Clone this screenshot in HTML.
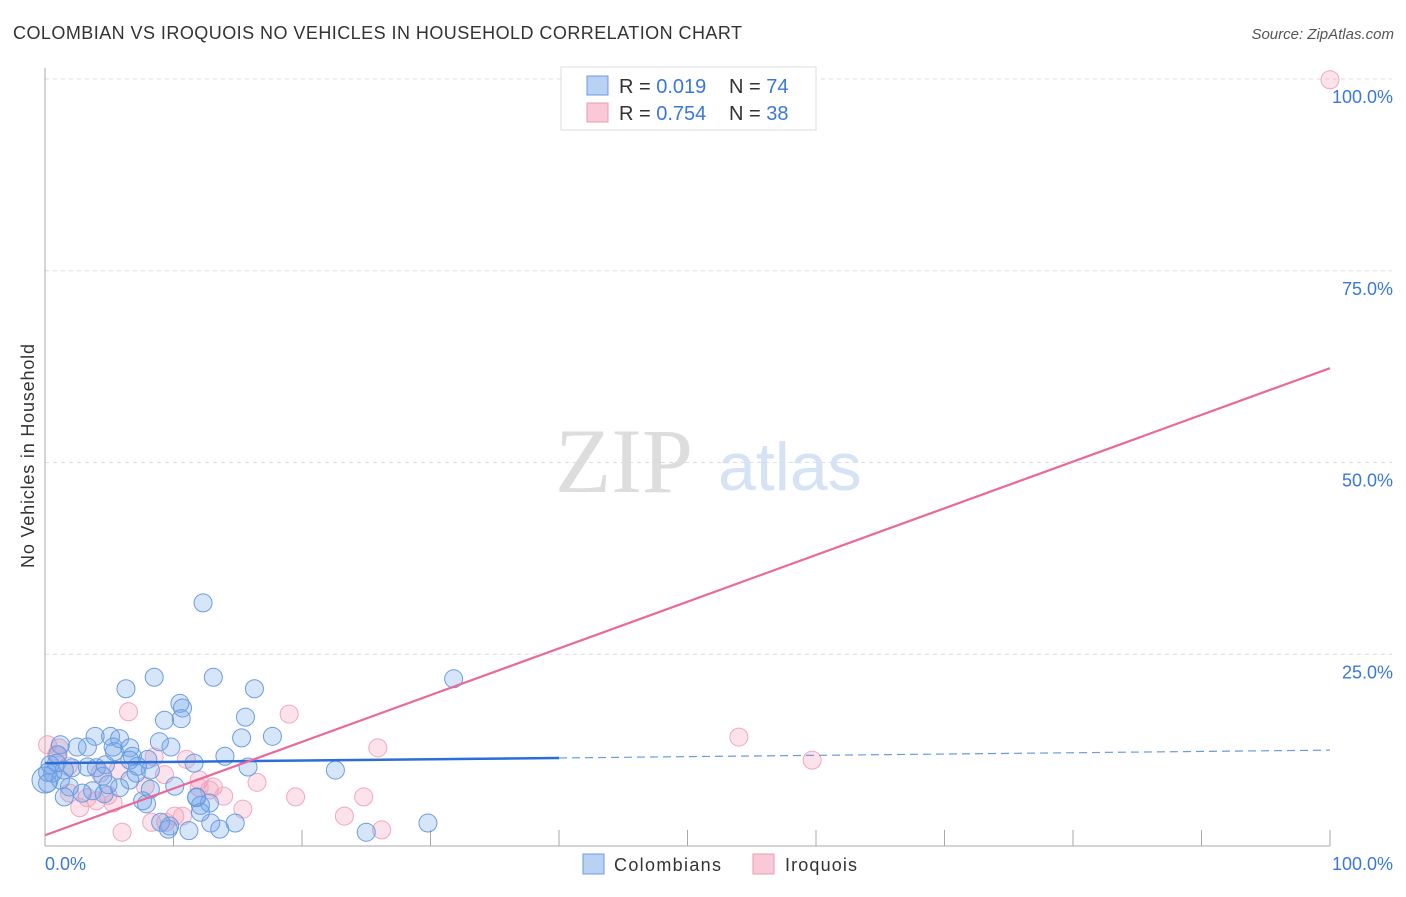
<!DOCTYPE html>
<html><head><meta charset="utf-8"><style>
body{margin:0;background:#fff;font-family:"Liberation Sans",sans-serif;}
svg text{font-family:"Liberation Sans",sans-serif;}
</style></head><body>
<svg id="chart" width="1406" height="892">
<text x="13" y="39" font-size="18" fill="#333" textLength="729">COLOMBIAN VS IROQUOIS NO VEHICLES IN HOUSEHOLD CORRELATION CHART</text>
<text x="1394" y="39" font-size="15" fill="#555" font-style="italic" text-anchor="end">Source: ZipAtlas.com</text>
<text x="555" y="492" font-size="92" fill="#ddd" style="font-family:'Liberation Serif',serif">ZIP</text>
<text x="718" y="490" font-size="68" fill="#d6e3f5">atlas</text>
<text transform="translate(34,456) rotate(-90)" font-size="18" fill="#333" text-anchor="middle" textLength="224">No Vehicles in Household</text>
<g id="grid"></g><g id="pts"></g><g id="lines"></g>
<g>
<rect x="561" y="67" width="255" height="63" fill="#fff" stroke="#ddd"/>
<rect x="587" y="76" width="21" height="19" fill="#b9d2f3" stroke="#6a9be0"/>
<rect x="587" y="103" width="21" height="19" fill="#f9c9d8" stroke="#ec9ab5"/>
<text x="619" y="93" font-size="20" fill="#333">R = <tspan fill="#3a78d8">0.019</tspan></text>
<text x="729" y="93" font-size="20" fill="#333">N = <tspan fill="#3a78d8">74</tspan></text>
<text x="619" y="120" font-size="20" fill="#333">R = <tspan fill="#3a78d8">0.754</tspan></text>
<text x="729" y="120" font-size="20" fill="#333">N = <tspan fill="#3a78d8">38</tspan></text>
</g>
<g>
<rect x="583" y="854" width="21" height="20" fill="#b9d2f3" stroke="#6a9be0"/>
<text x="614" y="871" font-size="18" fill="#333" textLength="107">Colombians</text>
<rect x="753" y="854" width="21" height="20" fill="#f9c9d8" stroke="#ec9ab5"/>
<text x="785" y="871" font-size="18" fill="#333" textLength="72">Iroquois</text>
</g>
</svg>
<script>
const yTicks=[25,50,75,100];
const yTickLabels=["25.0%","50.0%","75.0%","100.0%"];
const xTickLabels=["0.0%","100.0%"];
const blueX=[12.3,8.5,13.1,6.3,16.3,31.8,10.5,10.7,9.3,10.6,15.6,3.9,5.1,5.8,1.2,2.5,3.3,5.3,6.6,9.8,15.3,17.7,8.9,14.0,8.0,5.4,6.8,0.9,2.1,3.3,4.0,7.2,8.2,7.1,11.6,15.8,22.6,0.2,0.6,4.5,6.6,5.8,8.2,10.1,3.7,4.6,2.9,1.9,7.6,11.8,12.1,12.8,7.9,9.0,9.6,11.2,12.9,13.6,14.8,25.0,29.8,0.2,1.2,1.5,4.9,0.4,1.0,9.7,12.1,11.8,4.7,6.6,1.5,0];
const blueY=[31.7,22.0,22.0,20.5,20.5,21.8,18.6,18.0,16.4,16.6,16.8,14.3,14.3,14.0,13.2,12.9,12.9,12.9,12.8,12.9,14.1,14.3,13.6,11.7,11.3,12.3,11.7,10.8,10.2,10.3,10.2,10.4,9.9,9.5,10.8,10.3,9.9,9.6,9.5,9.1,8.6,7.6,7.4,7.8,7.2,6.8,6.9,7.7,5.9,6.3,5.3,5.6,5.5,3.1,2.2,2.0,3.0,2.2,3.0,1.8,3.0,8.2,8.6,6.4,8.0,10.6,11.9,2.6,4.4,6.4,10.6,11.2,9.9,8.6];
const pinkX=[100,6.5,19.0,54.0,59.7,25.9,0.2,0.9,1.8,8.5,11.0,9.3,4.3,5.7,12.0,13.1,16.5,12.0,12.8,7.8,4.9,3.3,1.9,2.7,4.0,5.3,13.9,19.5,24.8,8.3,9.4,10.1,10.7,15.4,23.3,6.0,26.2,1.1];
const pinkY=[99.9,17.5,17.2,14.2,11.2,12.8,13.2,11.9,10.4,11.6,11.3,9.3,9.5,9.9,8.6,7.7,8.3,7.6,7.3,7.8,6.6,6.3,6.9,5.0,5.9,5.6,6.5,6.4,6.4,3.1,3.1,3.9,3.9,4.8,3.9,1.8,2.1,12.8];
const blueFit=[10.8,12.5];
const pinkFit=[1.4,62.3];
const blueSolidEnd=40;
const NS="http://www.w3.org/2000/svg";
const X0=45,X1=1330,Y0=846,Y100=79;
const sx=v=>X0+(X1-X0)*v/100;
const sy=v=>Y0-(Y0-Y100)*v/100;
function mk(t,a,p){const e=document.createElementNS(NS,t);for(const k in a)e.setAttribute(k,a[k]);p.appendChild(e);return e;}
const g=document.getElementById('grid');
yTicks.forEach((t,i)=>{
 const l=mk('line',{x1:X0,x2:1392,y1:sy(t),y2:sy(t),stroke:'#ddd','stroke-dasharray':'4,4'},g);
 
 
 const tx=mk('text',{x:1393,y:sy(t)+24,'font-size':18,fill:'#3a78d8','text-anchor':'end'},g);
 tx.textContent=yTickLabels[i];
 
 
});
const ax=mk('line',{x1:X0,x2:X0,y1:68,y2:Y0,stroke:'#aaa'},g);


const bx=mk('line',{x1:X0,x2:X1,y1:Y0,y2:Y0,stroke:'#aaa'},g);


for(let i=1;i<=10;i++){
 const t=mk('line',{x1:sx(i*10),x2:sx(i*10),y1:Y0-16,y2:Y0,stroke:'#aaa'},g);
 
 
}
[[0,'start',45],[100,'end',1393]].forEach((d,i)=>{
 const t=mk('text',{x:d[2],y:870,'font-size':18,fill:'#3a78d8','text-anchor':d[1]},g);
 t.textContent=xTickLabels[i];
 
 
});
const p=document.getElementById('pts');
pinkX.forEach((x,i)=>{
 const c=mk('circle',{cx:sx(x),cy:sy(pinkY[i]),r:9,fill:'rgba(244,160,188,0.3)',stroke:'#f0a8bf','stroke-width':1},p);
 
 
});
blueX.forEach((x,i)=>{
 const c=mk('circle',{cx:sx(x),cy:sy(blueY[i]),r:i==blueX.length-1?13:9,fill:'rgba(110,160,232,0.28)',stroke:'#6a9de0','stroke-width':1},p);
 
 
});
const L=document.getElementById('lines');
const fy=(f,x)=>f[0]+(f[1]-f[0])*x/100;
let l1=mk('line',{x1:sx(0),y1:sy(fy(blueFit,0)),x2:sx(blueSolidEnd),y2:sy(fy(blueFit,blueSolidEnd)),stroke:'#2b6fd6','stroke-width':2.5},L);


let l2=mk('line',{x1:sx(blueSolidEnd),y1:sy(fy(blueFit,blueSolidEnd)),x2:sx(100),y2:sy(fy(blueFit,100)),stroke:'#6a9be0','stroke-width':1.2,'stroke-dasharray':'8,5'},L);


let l3=mk('line',{x1:sx(0),y1:sy(fy(pinkFit,0)),x2:sx(100),y2:sy(fy(pinkFit,100)),stroke:'#e8699a','stroke-width':2.2},L);


</script>
</body></html>
